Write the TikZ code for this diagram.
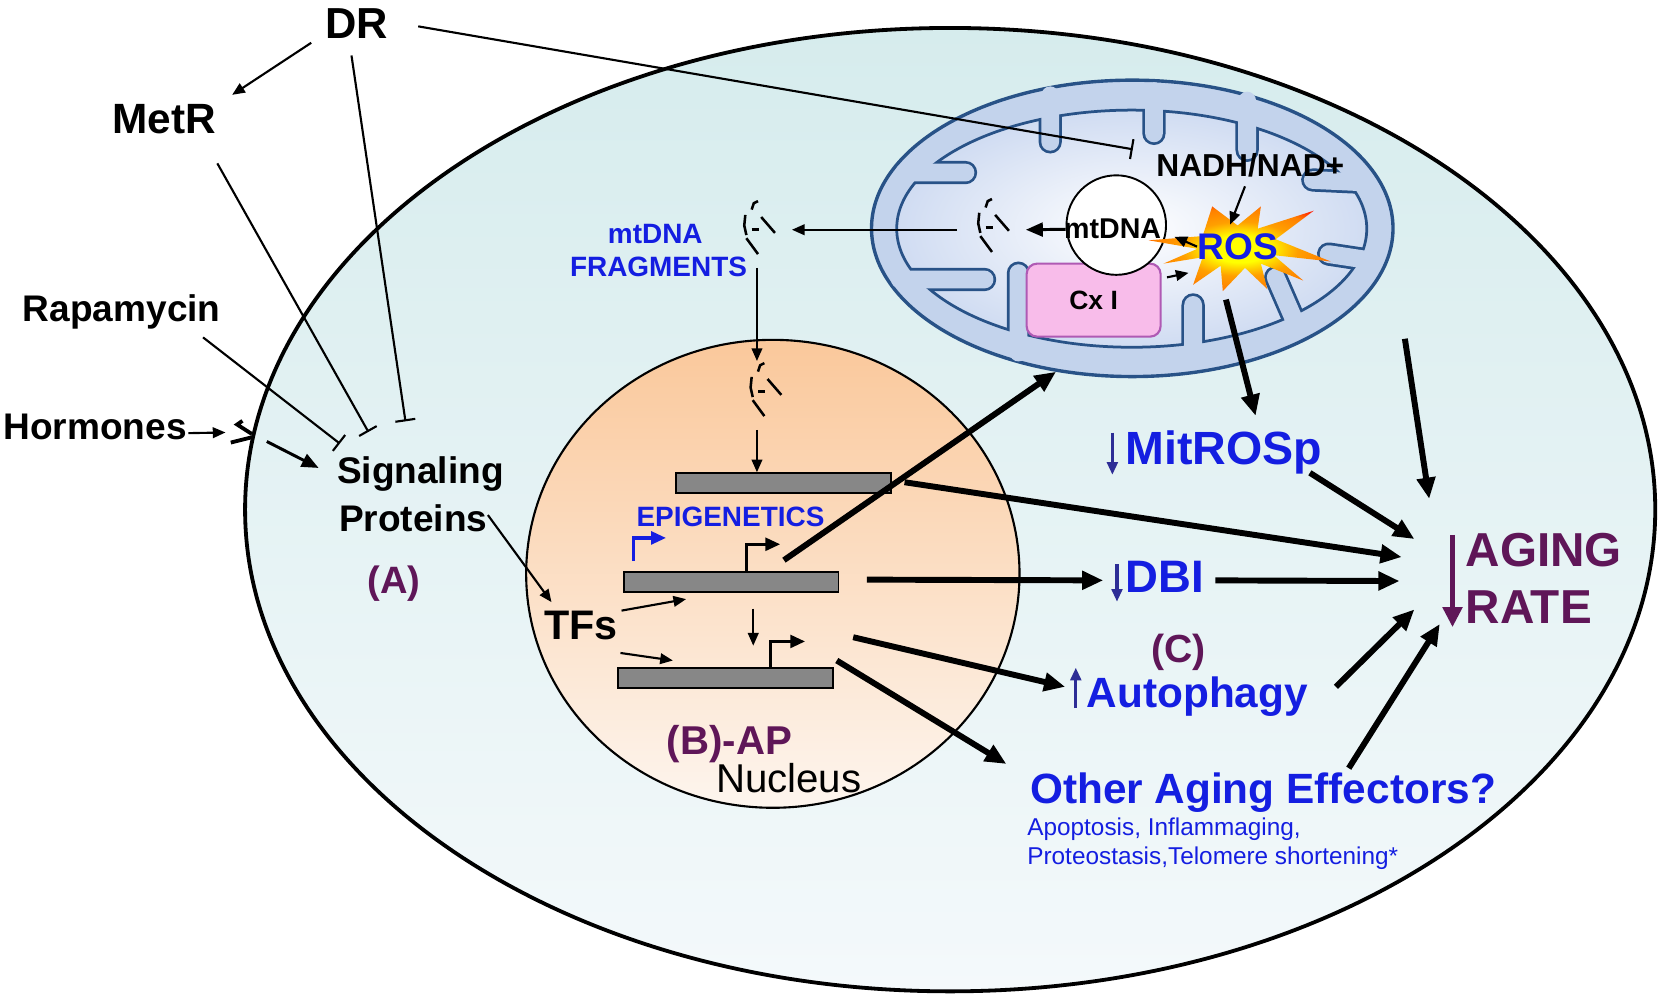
\documentclass[tikz,border=0pt]{standalone}
\usepackage{fontspec}
\setmainfont{Liberation Sans}
\usepackage{tikz}
\usetikzlibrary{arrows.meta,shapes.geometric,calc}

\definecolor{txtblue}{RGB}{20,30,225}
\definecolor{tagpurple}{RGB}{95,22,88}
\definecolor{arrownavy}{RGB}{45,45,150}
\definecolor{cellcyan}{RGB}{214,236,237}
\definecolor{cellpale}{RGB}{244,249,251}
\definecolor{nucpeach}{RGB}{250,200,155}
\definecolor{nucpale}{RGB}{253,245,238}
\definecolor{mitoblue}{RGB}{195,211,236}
\definecolor{mitoline}{RGB}{40,82,135}
\definecolor{matrixblue}{RGB}{208,220,242}
\definecolor{cxpink}{RGB}{248,188,234}
\definecolor{cxline}{RGB}{175,90,180}
\definecolor{barfill}{RGB}{135,135,135}

\newcommand{\fsz}[1]{\fontsize{#1}{#1}\selectfont}
\pgfdeclareradialshading{rosburst}{\pgfpoint{0bp}{0bp}}{color(0bp)=(yellow); color(8bp)=(yellow); color(16bp)=(orange!75!yellow); color(24bp)=(orange); color(31bp)=(red); color(50bp)=(red)}

\begin{document}
\begin{tikzpicture}[%
        x=0.5pt, y=-0.5pt,
        lbl/.style={inner sep=0pt, font=\bfseries\fsz{#1}},
        plainlbl/.style={inner sep=0pt, font=\fsz{#1}},
        bluelbl/.style={lbl=#1, text=txtblue},
        taglbl/.style={lbl=#1, text=tagpurple},
        fat/.style={line width=2.8pt, -{Triangle[length=10pt,width=8.5pt]}},
        slim/.style={line width=1pt, -{Triangle[length=6pt,width=5pt]}},
        midarrow/.style={line width=1.4pt, -{Triangle[length=8pt,width=6.5pt]}},
        blunt/.style={line width=1pt, -{Bar[width=9.5pt]}},
        updown/.style={line width=1.5pt, draw=arrownavy, -{Triangle[length=6pt,width=5pt]}},
        agedown/.style={line width=2.4pt, draw=tagpurple, -{Triangle[length=9.5pt,width=9pt]}},
        promoter/.style={line width=1.5pt, -{Triangle[length=7pt,width=6pt]}},
        genebar/.style={draw, line width=0.9pt, fill=barfill, minimum width=101.5pt, minimum height=9.5pt, inner sep=0pt},
        cellwall/.style={ellipse, draw, line width=1.8pt, top color=cellcyan, bottom color=cellpale, minimum width=666pt, minimum height=455pt, inner sep=0pt},
        nucleusbody/.style={ellipse, draw, line width=1pt, top color=nucpeach, bottom color=nucpale, minimum width=233pt, minimum height=221pt, inner sep=0pt},
        mitobody/.style={ellipse, draw=mitoline, line width=1.6pt, fill=mitoblue, minimum width=246.3pt, minimum height=140pt, inner sep=0pt},
        cxbox/.style={draw=cxline, line width=1pt, fill=cxpink, rounded corners=5pt, minimum width=63.3pt, minimum height=34.5pt, inner sep=0pt, font=\bfseries\fsz{12.5}},
        dnaring/.style={circle, draw, line width=0.9pt, fill=white, minimum size=47pt, inner sep=0pt},
        frag/.pic={
            \draw[line width=1.2pt] (8,9) -- (10,3) -- (14,1);
            \draw[line width=1.2pt] (2,14) -- (1,24) -- (3,33);
            \draw[line width=1.2pt] (8,28) -- (15,28);
            \draw[line width=1.2pt] (17,16) -- (30,31);
            \draw[line width=1.2pt] (3,36) -- (14,51);
            \coordinate (-n) at (13,-1);
            \coordinate (-s) at (13,64);
            \coordinate (-e) at (46,30);
            \coordinate (-w) at (-19,30);
        },
    ]
    \fill[white] (0,0) rectangle (1568,942);
    \useasboundingbox (0,0) rectangle (1568,942);

    \node[cellwall] (cell) at (897.5,481.4) {};
    \node[mitobody] (mito) at (1069.5,215.7) {};
    \path[draw=mitoline, line width=1.3pt, inner color=white, outer color=matrixblue]
        (1069,216) ellipse [x radius=111pt, y radius=56pt];
    \begin{scope}
        \clip (1069,216) ellipse [x radius=111pt, y radius=56pt];
        \draw[mitoline, line width=11pt, line cap=round]
            (992,90) -- (992,134) (1090,86) -- (1090,126) (1178,95) -- (1178,142)
            (1283,172) -- (1240,170) (1288,245) -- (1255,240) (1225,308) -- (1205,262)
            (1127,336) -- (1127,288) (962,333) -- (962,258) (854,163) -- (912,163)
            (850,264) -- (930,264);
    \end{scope}
    \draw[mitoblue, line width=8.4pt, line cap=round]
        (992,90) -- (992,134) (1090,86) -- (1090,126) (1178,95) -- (1178,142)
        (1283,172) -- (1240,170) (1288,245) -- (1255,240) (1225,308) -- (1205,262)
        (1127,336) -- (1127,288) (962,333) -- (962,258) (854,163) -- (912,163)
        (850,264) -- (930,264);
    \node[nucleusbody] (nuc) at (730,542) {};

    \node[cxbox] (cx1) at (1033,283.5) {Cx I};
    \node[dnaring] (mtcirc) at (1054.4,212.6) {};
    \coordinate (burst) at (1169,233);
    \shade[shading=rosburst, shift={(burst)}]
        (88,14) -- (36,-7) -- (72,-34) -- (19,-17) -- (22,-38) -- (0,-20) -- (-24,-38) -- (-33,-10)
        -- (-84,-6) -- (-38,2) -- (-70,16) -- (-33,10) -- (-42,36) -- (-16,18) -- (-14,42)
        -- (7,20) -- (28,40) -- (22,16) -- (62,32) -- (34,8) -- cycle;

    \node[genebar] (bar1) at (740,456.5) {};
    \node[genebar] (bar2) at (690.5,549.5) {};
    \node[genebar] (bar3) at (685,640.3) {};
    \draw[promoter] ($(bar2.north)+(14.5,0)$) |- ++(32,-25);
    \draw[promoter] ($(bar3.north)+(42.5,0)$) |- ++(33,-24);
    \draw[promoter, txtblue] ($(bar2.north west)+(10,-9)$) |- ++(31,-22);

    \node[lbl=20.5, anchor=base] (dr) at (337,36) {DR};
    \node[lbl=20, anchor=base] (metr) at (155,126.5) {MetR};
    \node[lbl=17.5, anchor=base] (rapa) at (115,304) {Rapamycin};
    \node[lbl=17.5, anchor=base west] (horm) at (3,415) {Hormones};
    \node[lbl=17.5, anchor=base west] (sig1) at (318,457) {Signaling};
    \node[lbl=17.5, anchor=base west] (sig2) at (320,502) {Proteins};
    \node[taglbl=18, anchor=base] (taga) at (372,561) {(A)};
    \node[bluelbl=13.2, anchor=base] (fraglbl1) at (619,230) {mtDNA};
    \node[bluelbl=13.2, anchor=base] (fraglbl2) at (622,261) {FRAGMENTS};
    \node[lbl=15, anchor=base] (nadh) at (1181,167) {NADH/NAD+};
    \node[lbl=13.5, anchor=base] (mtdna) at (1051,225) {mtDNA};
    \node[bluelbl=17.5, anchor=base] (ros) at (1169,245) {ROS};
    \node[bluelbl=22, anchor=base] (mitros) at (1156,439) {MitROSp};
    \node[bluelbl=21.5, anchor=base] (dbi) at (1100.5,560) {DBI};
    \node[taglbl=18.5, anchor=base] (tagc) at (1113.5,626) {(C)};
    \node[bluelbl=20, anchor=base] (auto) at (1131,668) {Autophagy};
    \node[taglbl=22.5, anchor=base west] (aging) at (1384,535) {AGING};
    \node[taglbl=22.5, anchor=base west] (rate) at (1384,589) {RATE};
    \node[bluelbl=20, anchor=base] (other) at (1193,759) {Other Aging Effectors?};
    \node[plainlbl=11.5, text=txtblue, anchor=base west] (effa) at (970,789) {Apoptosis, Inflammaging,};
    \node[plainlbl=11.5, text=txtblue, anchor=base west] (effb) at (970,817) {Proteostasis,Telomere shortening*};
    \node[lbl=19.5, anchor=base] (tfs) at (549,604) {TFs};
    \node[bluelbl=13.2, anchor=base] (epi) at (690,497.5) {EPIGENETICS};
    \node[taglbl=19, anchor=base] (tagb) at (689,713) {(B)-AP};
    \node[plainlbl=19, anchor=base] (nucl) at (745,749) {Nucleus};

    \pic (fc) at (702,189) {frag};
    \pic (fn) at (708,342) {frag};
    \pic (fm) at (923,187) {frag};

    \coordinate (blkdr) at (383,398);
    \coordinate (blkmet) at (348,408);
    \coordinate (blkrap) at (321,419);
    \coordinate (blknadh) at (1070,141);
    \coordinate (receptor) at (213,408.5);
    \coordinate (membr) at (252,417);
    \coordinate (topin) at (1327,320);

    \draw[line width=1.8pt] (238,410) -- (224,401) -- (229,397.5);
    \draw[line width=1.8pt] (238,413) -- (218,418);

    \draw[slim] ($(dr.south west)+(-13,4)$) -- ($(metr.north east)+(15,-9)$);
    \draw[blunt] ($(dr.south)+(-5,16)$) -- (blkdr);
    \draw[blunt] ($(metr.south east)+(1,27)$) -- (blkmet);
    \draw[blunt] ($(rapa.south east)+(-17,7)$) -- (blkrap);
    \draw[blunt] ($(dr.east)+(28,3)$) -- (blknadh);
    \draw[slim] ($(horm.east)+(1,6)$) -- (receptor);
    \draw[midarrow] (membr) -- ($(sig1.west)+(-17,-6)$);
    \draw[slim] ($(sig2.east)+(0,-3)$) -- ($(tfs.north west)+(7,-8)$);
    \draw[slim] ($(tfs.north east)+(3,0)$) -- ($(bar2.south west)+(60,6)$);
    \draw[slim] ($(tfs.south east)+(2,12)$) -- ($(bar3.north west)+(53,-6)$);
    \draw[slim] ($(bar2.south)+(21,15)$) -- ($(bar3.north)+(26.5,-20)$);

    \draw[slim] (fc-s) -- (fc-s |- fn-n);
    \draw[slim] (fc-s |- fn-s) -- (fc-s |- bar1.north);
    \draw[midarrow] ($(mtcirc.west)+(0,4)$) -- (fm-e);
    \draw[slim] (fm-w) -- (fm-w -| fc-e);
    \draw[slim] (ros.west) -- ($(mtcirc.east)+(7,11)$);
    \draw[slim] ($(cx1.north east)+(5,14)$) -- ($(ros.south west)+(-8,12)$);
    \draw[slim] ($(nadh.south)+(-5,8)$) -- ($(ros.north)+(-7,-8)$);

    \draw[fat] ($(burst)+(-11,50)$) -- ($(mitros.north)+(30,-14)$);
    \draw[fat] ($(mitros.east)+(-12,19)$) -- ($(aging.north west)+(-48,6)$);
    \draw[fat] ($(bar1.east)+(12,-1)$) -- ($(aging.north west)+(-60,23)$);
    \draw[fat] (topin) -- ($(aging.north west)+(-34,-32)$);
    \draw[fat] ($(bar2.east)+(26,-2)$) -- ($(dbi.west)+(-21,3)$);
    \draw[fat] ($(dbi.east)+(10,3)$) -- ($(aging.south west)+(-62,13)$);
    \draw[fat] ($(bar2.south east)+(13,42)$) -- ($(auto.west)+(-20,-9)$);
    \draw[fat] ($(bar3.north east)+(3,-6)$) -- ($(other.north west)+(-22,-8)$);
    \draw[fat] ($(auto.east)+(26,-9)$) -- ($(rate.north west)+(-48,18)$);
    \draw[fat] ($(other.north)+(81,-4)$) -- ($(rate.south west)+(-24,0)$);
    \draw[fat] ($(bar2.north)+(50,-10)$) -- (mito.242);

    \draw[updown] ($(mitros.north west)+(-12,2)$) -- ($(mitros.south west)+(-12,0)$);
    \draw[updown] ($(dbi.north west)+(-8,3)$) -- ($(dbi.south west)+(-8,8)$);
    \draw[updown] ($(auto.south west)+(-10,-8)$) -- ($(auto.north west)+(-10,-8)$);
    \draw[agedown] ($(aging.north west)+(-12,2)$) -- ($(rate.south west)+(-12,3)$);
\end{tikzpicture}
\end{document}
